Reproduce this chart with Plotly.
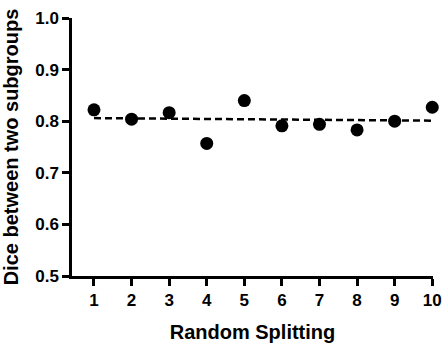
import plotly.graph_objects as go

splits = [1, 2, 3, 4, 5, 6, 7, 8, 9, 10]
dice = [0.822, 0.804, 0.8165, 0.757, 0.840, 0.791, 0.794, 0.783, 0.800, 0.827]
fit_x = [1, 10]
fit_y = [0.806, 0.801]
y_ticks = [0.5, 0.6, 0.7, 0.8, 0.9, 1.0]

fig = go.Figure()
fig.add_trace(go.Scatter(x=fit_x, y=fit_y, mode="lines",
                         line=dict(color="black", width=2.5, dash="7px,4px"),
                         cliponaxis=False, showlegend=False))
fig.add_trace(go.Scatter(x=splits, y=dice, mode="markers",
                         marker=dict(color="black", size=13),
                         cliponaxis=False, showlegend=False))

font = "Liberation Sans, Arial, sans-serif"
fig.update_layout(
    width=446, height=344,
    margin=dict(l=72, r=13, t=18, b=68),
    paper_bgcolor="white", plot_bgcolor="white",
    font=dict(family=font, color="black"),
    xaxis=dict(range=[0.415, 10.02], tickvals=splits, ticktext=[f"<b>{v}</b>" for v in splits],
               showline=True, linecolor="black", linewidth=2.5, ticks="outside",
               ticklen=7, tickwidth=2.5, tickcolor="black", showgrid=False, zeroline=False,
               automargin=False,
               tickfont=dict(size=17, family=font),
               title=dict(text="<b>Random Splitting</b>", font=dict(size=20, family=font), standoff=16)),
    yaxis=dict(range=[0.5, 1.0], tickvals=y_ticks, ticktext=[f"<b>{v:.1f}</b>" for v in y_ticks],
               showline=True, linecolor="black", linewidth=2.5, ticks="outside",
               ticklen=7, tickwidth=2.5, tickcolor="black", showgrid=False, zeroline=False,
               automargin=False,
               tickfont=dict(size=17, family=font),
               title=dict(text="<b>Dice between two subgroups</b>", font=dict(size=20, family=font), standoff=12)),
)
fig.write_html("out.html", config={"displayModeBar": False},
               post_script="document.body.style.margin='0';")
